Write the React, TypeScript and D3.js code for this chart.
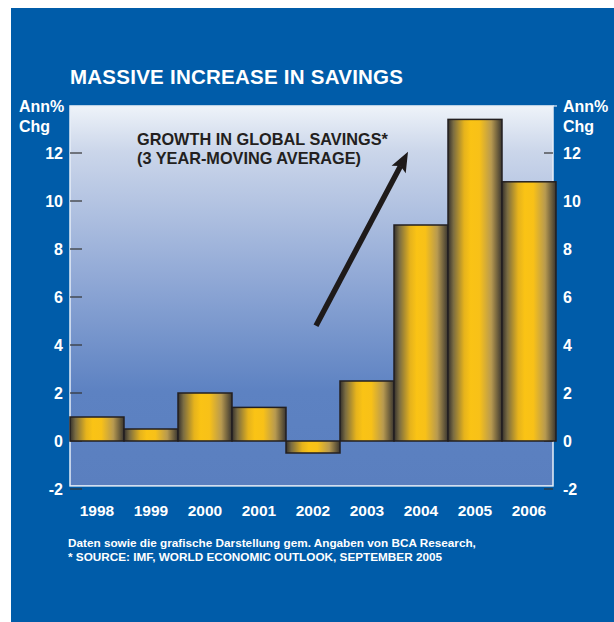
import React from "react";
import * as d3 from "d3";

const years = ["1998", "1999", "2000", "2001", "2002", "2003", "2004", "2005", "2006"];
const savings = [1.0, 0.5, 2.0, 1.4, -0.5, 2.5, 9.0, 13.4, 10.8];
const yTicks = [-2, 0, 2, 4, 6, 8, 10, 12];
const title = "MASSIVE INCREASE IN SAVINGS";
const annotation = ["GROWTH IN GLOBAL SAVINGS*", "(3 YEAR-MOVING AVERAGE)"];
const footnotes = [
  "Daten sowie die grafische Darstellung gem. Angaben von BCA Research,",
  "* SOURCE: IMF, WORLD ECONOMIC OUTLOOK, SEPTEMBER 2005",
];

const W = 614;
const H = 622;
const FONT = "'Liberation Sans', Arial, Helvetica, sans-serif";
const BLUE = "#005ca9";

export default function App() {
  const x = d3.scaleBand<string>().domain(years).range([70, 556]).padding(0);
  const y = d3.scaleLinear().domain([-2, 14]).range([489, 105]);
  const plotL = 70;
  const plotR = 553;
  const plotT = y(13.96);
  const plotB = y(-1.87);

  const ax1 = (x("2002") as number) + 30;
  const ay1 = y(4.8);
  const ax2 = (x("2004") as number) + 14;
  const ay2 = y(12.05);
  const ang = Math.atan2(ay2 - ay1, ax2 - ax1);
  const headLen = 20;
  const headW = 8;
  const bx = ax2 - headLen * Math.cos(ang);
  const by = ay2 - headLen * Math.sin(ang);
  const px = -Math.sin(ang);
  const py = Math.cos(ang);
  const head = `M${ax2},${ay2} L${bx + px * headW},${by + py * headW} L${bx + 4 * Math.cos(ang)},${by + 4 * Math.sin(ang)} L${bx - px * headW},${by - py * headW} Z`;

  return (
    <svg width={W} height={H} style={{ position: "absolute", left: 0, top: 0, display: "block" }}>
      <defs>
        <linearGradient id="plotBg" x1="0" y1="0" x2="0" y2="1">
          <stop offset="0" stopColor="#eef3f9" />
          <stop offset="0.12" stopColor="#cbd6ea" />
          <stop offset="0.45" stopColor="#91a9d6" />
          <stop offset="0.75" stopColor="#5d82c2" />
          <stop offset="1" stopColor="#5a7fbf" />
        </linearGradient>
        <linearGradient id="barGrad" x1="0" y1="0" x2="1" y2="0">
          <stop offset="0" stopColor="#34302c" />
          <stop offset="0.1" stopColor="#7a6c42" />
          <stop offset="0.3" stopColor="#e6b31c" />
          <stop offset="0.42" stopColor="#fac315" />
          <stop offset="0.58" stopColor="#f8c118" />
          <stop offset="0.8" stopColor="#b89a50" />
          <stop offset="1" stopColor="#3a3630" />
        </linearGradient>
      </defs>
      <rect x={0} y={0} width={W} height={H} fill="#ffffff" />
      <rect x={11} y={8} width={W - 11} height={H - 8} fill={BLUE} />

      <text x={70} y={84} fill="#ffffff" fontFamily={FONT} fontWeight="bold" fontSize={20.5} textLength={333} lengthAdjust="spacing">
        {title}
      </text>

      <rect x={plotL} y={plotT} width={plotR - plotL} height={plotB - plotT} fill="url(#plotBg)" stroke="#e8eef7" strokeWidth={1.5} />

      {yTicks.map((t) => (
        <g key={t}>
          <line x1={plotL} x2={plotL + 12} y1={y(t)} y2={y(t)} stroke="#333" strokeWidth={1.2} />
          <line x1={plotR - 9} x2={plotR} y1={y(t)} y2={y(t)} stroke="#333" strokeWidth={1.2} />
          <text x={63} y={y(t) + 6} textAnchor="end" fill="#fff" fontFamily={FONT} fontWeight="bold" fontSize={16}>
            {t}
          </text>
          <text x={563} y={y(t) + 6} textAnchor="start" fill="#fff" fontFamily={FONT} fontWeight="bold" fontSize={16}>
            {t}
          </text>
        </g>
      ))}
      <line x1={plotR} x2={plotR + 4} y1={plotT} y2={plotT} stroke="#e8eef7" strokeWidth={1.2} />

      <text x={19} y={112} fill="#fff" fontFamily={FONT} fontWeight="bold" fontSize={16}>Ann%</text>
      <text x={19} y={132} fill="#fff" fontFamily={FONT} fontWeight="bold" fontSize={16}>Chg</text>
      <text x={563} y={112} fill="#fff" fontFamily={FONT} fontWeight="bold" fontSize={16}>Ann%</text>
      <text x={563} y={132} fill="#fff" fontFamily={FONT} fontWeight="bold" fontSize={16}>Chg</text>

      {years.map((yr, i) => {
        const v = savings[i];
        const top = y(Math.max(0, v));
        const bot = y(Math.min(0, v));
        return (
          <rect
            key={yr}
            x={x(yr)}
            y={top}
            width={x.bandwidth()}
            height={bot - top}
            fill="url(#barGrad)"
            stroke="#231f20"
            strokeWidth={1.5}
          />
        );
      })}

      {years.map((yr) => (
        <text
          key={yr}
          x={(x(yr) as number) + x.bandwidth() / 2}
          y={516}
          textAnchor="middle"
          fill="#fff"
          fontFamily={FONT}
          fontWeight="bold"
          fontSize={15.5}
        >
          {yr}
        </text>
      ))}

      {annotation.map((s, i) => (
        <text key={s} x={137} y={145 + i * 19} fill="#231f20" fontFamily={FONT} fontWeight="bold" fontSize={16.3}>
          {s}
        </text>
      ))}

      <line x1={ax1} y1={ay1} x2={bx + 4 * Math.cos(ang)} y2={by + 4 * Math.sin(ang)} stroke="#1e1a1a" strokeWidth={5.5} />
      <path d={head} fill="#1e1a1a" />

      {footnotes.map((s, i) => (
        <text key={s} x={68} y={547 + i * 13.5} fill="#fff" fontFamily={FONT} fontWeight="bold" fontSize={11.75}>
          {s}
        </text>
      ))}
    </svg>
  );
}
